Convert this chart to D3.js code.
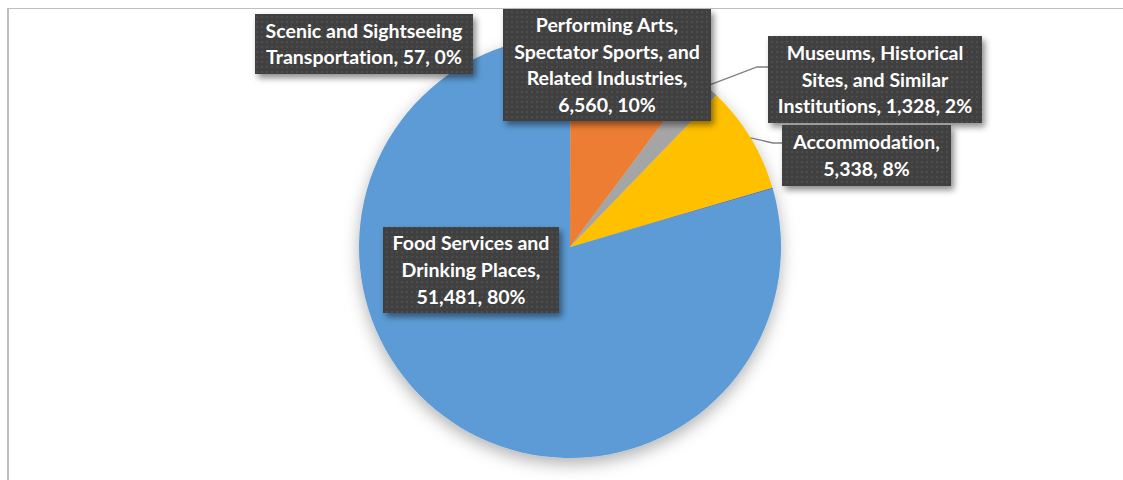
<!DOCTYPE html>
<html>
<head>
<meta charset="utf-8">
<script src="https://cdn.jsdelivr.net/npm/d3@7"></script>
<style>
  html, body { margin: 0; padding: 0; background: #fff; }
  svg { display: block; }
  .lbl { font-family: Lato, "Open Sans", sans-serif; font-weight: bold; fill: #fff;
         font-variant-ligatures: none; font-feature-settings: "liga" 0, "dlig" 0; }
</style>
</head>
<body>
<div id="chart"></div>
<script>
// data, in the order of the sheet
const categories = [
  "Food Services and Drinking Places",
  "Performing Arts, Spectator Sports, and Related Industries",
  "Museums, Historical Sites, and Similar Institutions",
  "Accommodation",
  "Scenic and Sightseeing Transportation"
];
const values = [51481, 6560, 1328, 5338, 57];
const percentLabels = ["80%", "10%", "2%", "8%", "0%"];
// label text as it is wrapped in the picture
const labelLines = [
  ["Food Services and", "Drinking Places,", "51,481, 80%"],
  ["Performing Arts,", "Spectator Sports, and", "Related Industries,", "6,560, 10%"],
  ["Museums, Historical", "Sites, and Similar", "Institutions, 1,328, 2%"],
  ["Accommodation,", "5,338, 8%"],
  ["Scenic and Sightseeing", "Transportation, 57, 0%"]
];
const colors = ["#5B9BD5", "#ED7D31", "#A5A5A5", "#FFC000", "#4472C4"];

const width = 1123, height = 480;
const cx = 570, cy = 247, radius = 211;
const firstSliceAngle = 74; // degrees

// label box layout [x, y, w, h] and leader elbows
const boxes = [
  [383, 227, 176, 86],
  [503, 9, 208, 112],
  [768, 36, 214, 87],
  [782, 125, 169, 61],
  [255, 14, 218, 60]
];
const leaders = { 2: [757, 67], 3: [773, 143] };
const lineGap = 26.6;

const svg = d3.select("#chart").append("svg").attr("width", width).attr("height", height);
const defs = svg.append("defs");

const pieShadow = defs.append("filter").attr("id", "pieShadow")
  .attr("x", "-20%").attr("y", "-20%").attr("width", "140%").attr("height", "140%");
pieShadow.append("feDropShadow").attr("dx", 0).attr("dy", 6).attr("stdDeviation", 8)
  .attr("flood-color", "#000").attr("flood-opacity", 0.3);

const boxShadow = defs.append("filter").attr("id", "boxShadow")
  .attr("x", "-20%").attr("y", "-20%").attr("width", "140%").attr("height", "150%");
boxShadow.append("feDropShadow").attr("dx", 3).attr("dy", 4).attr("stdDeviation", 3)
  .attr("flood-color", "#000").attr("flood-opacity", 0.45);

const pat = defs.append("pattern").attr("id", "dots").attr("patternUnits", "userSpaceOnUse")
  .attr("width", 5).attr("height", 5);
pat.append("rect").attr("width", 5).attr("height", 5).attr("fill", "#404040");
pat.append("rect").attr("x", 1).attr("y", 1).attr("width", 2).attr("height", 2).attr("fill", "#4e4e4e");

// chart frame
svg.append("line").attr("x1", 8).attr("y1", 8.5).attr("x2", width).attr("y2", 8.5)
  .attr("stroke", "#bfbfbf").attr("stroke-width", 1);
svg.append("line").attr("x1", 8).attr("y1", 8).attr("x2", 8).attr("y2", height)
  .attr("stroke", "#bfbfbf").attr("stroke-width", 2);

const rad = d => d * Math.PI / 180;
const pie = d3.pie().sort(null)
  .startAngle(rad(firstSliceAngle)).endAngle(rad(firstSliceAngle) + 2 * Math.PI);
const arcs = pie(values);
const arc = d3.arc().innerRadius(0).outerRadius(radius);

const g = svg.append("g").attr("transform", `translate(${cx},${cy})`);
g.append("g").attr("filter", "url(#pieShadow)")
  .selectAll("path").data(arcs).enter().append("path")
  .attr("d", arc).attr("fill", (d, i) => colors[i]);

// leader lines
const edgePoint = a => {
  const m = (a.startAngle + a.endAngle) / 2;
  return [cx + radius * Math.sin(m), cy - radius * Math.cos(m)];
};
Object.keys(leaders).forEach(k => {
  const i = +k;
  const p0 = edgePoint(arcs[i]);
  const el = leaders[i];
  svg.append("polyline")
    .attr("points", [p0, el, [boxes[i][0], el[1]]].map(p => p.join(",")).join(" "))
    .attr("fill", "none").attr("stroke", "#7f7f7f").attr("stroke-width", 1.3);
});

// data labels
const labels = svg.append("g").selectAll("g").data(categories).enter().append("g");
labels.append("rect")
  .attr("x", (d, i) => boxes[i][0]).attr("y", (d, i) => boxes[i][1])
  .attr("width", (d, i) => boxes[i][2]).attr("height", (d, i) => boxes[i][3])
  .attr("fill", "url(#dots)").attr("filter", "url(#boxShadow)");
labels.each(function(d, i) {
  const b = boxes[i];
  const lines = labelLines[i];
  const midY = b[1] + b[3] / 2;
  const t = d3.select(this).append("text").attr("class", "lbl")
    .attr("text-anchor", "middle").style("font-size", "19.5px");
  lines.forEach((s, j) => {
    t.append("tspan").attr("x", b[0] + b[2] / 2)
      .attr("y", midY + (j - (lines.length - 1) / 2) * lineGap)
      .attr("dy", "0.36em").text(s);
  });
});
</script>
</body>
</html>
